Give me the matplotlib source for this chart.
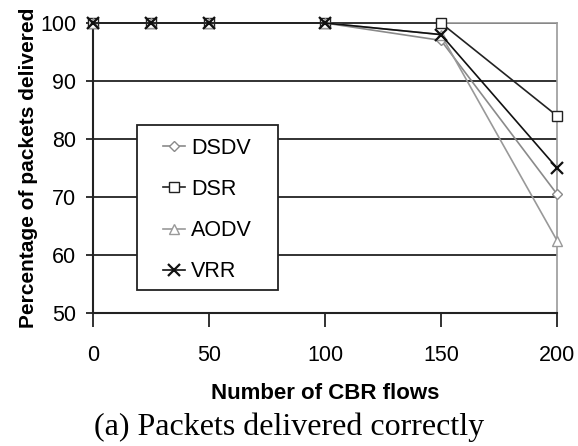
import matplotlib.pyplot as plt
from matplotlib.patches import Rectangle

# CBR flows on x, percent delivered on y
flows = [0, 25, 50, 100, 150, 200]
dsdv = [100, 100, 100, 100, 97, 70.5]
dsr = [100, 100, 100, 100, 100, 84]
aodv = [100, 100, 100, 100, 98, 62.5]
vrr = [100, 100, 100, 100, 98, 75]
xticks = [0, 50, 100, 150, 200]
yticks = [50, 60, 70, 80, 90, 100]

plt.rcParams['font.family'] = ['Liberation Sans', 'DejaVu Sans']

fig = plt.figure(figsize=(5.78, 4.46), dpi=100)
ax = fig.add_axes([93/578, 1 - 313/446, 464/578, 290/446])

for y in yticks[1:]:
    ax.axhline(y, color='#222222', lw=1.3, zorder=1)

ax.plot(flows, dsdv, color='#8a8a8a', lw=1.2, marker='D', ms=5,
        mfc='white', mec='#8a8a8a', mew=1.0, label='DSDV', zorder=3, clip_on=False)
ax.plot(flows, dsr, color='#222222', lw=1.2, marker='s', ms=7,
        mfc='white', mec='#222222', mew=1.0, label='DSR', zorder=3, clip_on=False)
ax.plot(flows, aodv, color='#999999', lw=1.2, marker='^', ms=7,
        mfc='white', mec='#999999', mew=1.0, label='AODV', zorder=3, clip_on=False)
ax.plot(flows, vrr, color='#111111', lw=1.2, marker='x', ms=8,
        mew=1.6, label='VRR', zorder=4, clip_on=False)

ax.set_xlim(0, 200)
ax.set_ylim(50, 100)
ax.set_xticks(xticks)
ax.set_yticks(yticks)
ax.tick_params(axis='both', width=1.3, color='#222222', direction='out',
               labelsize=15.5)
ax.tick_params(axis='x', length=10, pad=13)
ax.tick_params(axis='y', length=5, pad=7)

for s in ['left', 'bottom']:
    ax.spines[s].set_color('#222222')
    ax.spines[s].set_linewidth(1.5)
for s in ['top', 'right']:
    ax.spines[s].set_color('#999999')
    ax.spines[s].set_linewidth(1.2)

ax.set_xlabel('Number of CBR flows', fontsize=16, fontweight='bold', labelpad=12)
ax.set_ylabel('Percentage of packets delivered', fontsize=15, fontweight='bold')
ax.yaxis.set_label_coords(-(93 - 38) / 464, 0.5)

# legend box drawn separately so the entries can sit with wide padding
box = Rectangle((44/464, 23/290), 141/464, 165/290, transform=ax.transAxes,
                facecolor='white', edgecolor='#222222', lw=1.3, zorder=5)
ax.add_patch(box)
leg = ax.legend(loc='upper left', bbox_to_anchor=(70/464, (313 - 138)/290),
                fontsize=15.5, frameon=False, handlelength=1.0,
                handletextpad=0.3, labelspacing=0.93, borderpad=0,
                borderaxespad=0)
leg.set_zorder(6)

fig.text(0.5, 1 - 427/446, '(a) Packets delivered correctly', ha='center',
         va='center', fontsize=23, family=['Liberation Serif', 'DejaVu Serif'])

fig.savefig('out.png', dpi=100)
